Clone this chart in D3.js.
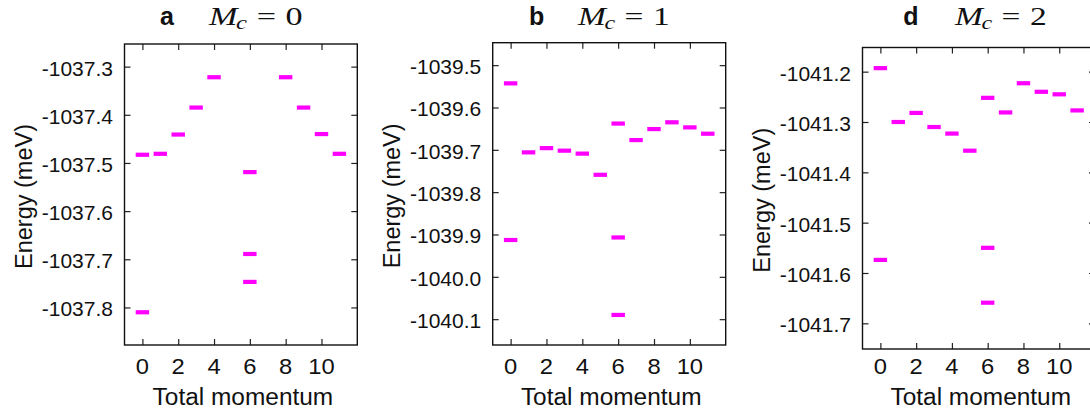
<!DOCTYPE html>
<html><head><meta charset="utf-8">
<script src="https://cdn.jsdelivr.net/npm/d3@7"></script>
<style>body{margin:0;background:#fff}svg{display:block}</style>
</head><body>
<svg id="chart" width="1090" height="413"></svg>
<script>
// ---- data ----
const panelLetters = ["a", "b", "d"];
const mcValues = ["0", "1", "2"];
const xTickValues = [0, 2, 4, 6, 8, 10];

const momentumA = [0, 0, 1, 2, 3, 4, 6, 6, 6, 8, 9, 10, 11];
const energyA = [-1037.483, -1037.810, -1037.481, -1037.441, -1037.385, -1037.322,
                 -1037.519, -1037.689, -1037.747, -1037.322, -1037.385, -1037.440, -1037.481];
const yTicksA = [-1037.3, -1037.4, -1037.5, -1037.6, -1037.7, -1037.8];

const momentumB = [0, 0, 1, 2, 3, 4, 5, 6, 6, 6, 7, 8, 9, 10, 11];
const energyB = [-1039.543, -1039.913, -1039.706, -1039.696, -1039.702, -1039.709, -1039.759,
                 -1039.638, -1039.907, -1040.090, -1039.677, -1039.651, -1039.635, -1039.647, -1039.662];
const yTicksB = [-1039.5, -1039.6, -1039.7, -1039.8, -1039.9, -1040.0, -1040.1];

const momentumD = [0, 0, 1, 2, 3, 4, 5, 6, 6, 6, 7, 8, 9, 10, 11];
const energyD = [-1041.193, -1041.574, -1041.300, -1041.282, -1041.310, -1041.323, -1041.357,
                 -1041.252, -1041.550, -1041.659, -1041.281, -1041.223, -1041.240, -1041.245, -1041.277];
const yTicksD = [-1041.2, -1041.3, -1041.4, -1041.5, -1041.6, -1041.7];

// ---- layout ----
const layout = [
  {left:124.5, right:357.3, top:44,   bottom:345, yDomain:[-1037.878, -1037.253], letterX:167,   mathX:209, mathW:95},
  {left:492.7, right:725.7, top:42.7, bottom:345, yDomain:[-1040.161, -1039.447], letterX:536.7, mathX:578, mathW:93},
  {left:862.5, right:1095,  top:47.5, bottom:349, yDomain:[-1041.751, -1041.152], letterX:911,   mathX:955, mathW:93}
];
const series = [
  {k: momentumA, e: energyA, ticks: yTicksA},
  {k: momentumB, e: energyB, ticks: yTicksB},
  {k: momentumD, e: energyD, ticks: yTicksD}
];

const svg = d3.select("#chart");
const SANS = "'Liberation Sans', Arial, sans-serif";
const SERIF = "'Liberation Serif', 'Times New Roman', serif";
const fmt = d => d.toFixed(1);

layout.forEach((L, i) => {
  const S = series[i];
  const x = d3.scaleLinear().domain([-1, 12]).range([L.left, L.right]);
  const y = d3.scaleLinear().domain(L.yDomain).range([L.bottom, L.top]);
  const g = svg.append("g");
  const tl = 6;

  // bars
  g.selectAll("rect.bar").data(S.k.map((k, j) => ({k, e: S.e[j]}))).enter()
    .append("rect").attr("class", "bar")
    .attr("x", d => x(d.k - 0.375)).attr("width", d => x(d.k + 0.375) - x(d.k - 0.375))
    .attr("y", d => y(d.e) - 2.1).attr("height", 4.2)
    .attr("fill", "#ff00ff");

  // axes (inward ticks, mirrored)
  const axL = d3.axisLeft(y).tickValues(S.ticks).tickSizeInner(-tl).tickSizeOuter(0).tickFormat(fmt).tickPadding(11.5);
  const axR = d3.axisRight(y).tickValues(S.ticks).tickSizeInner(-tl).tickSizeOuter(0).tickFormat("");
  const axB = d3.axisBottom(x).tickValues(xTickValues).tickSizeInner(-tl).tickSizeOuter(0).tickFormat(d3.format("d"));
  const axT = d3.axisTop(x).tickValues(xTickValues).tickSizeInner(-tl).tickSizeOuter(0).tickFormat("");

  const gl = g.append("g").attr("transform", `translate(${L.left},0)`).call(axL);
  gl.selectAll("text").attr("font-family", SANS).attr("font-size", 21).attr("fill", "#111").attr("dy", "0.40em");
  g.append("g").attr("transform", `translate(${L.right},0)`).call(axR);
  const gb = g.append("g").attr("transform", `translate(0,${L.bottom})`).call(axB);
  gb.selectAll("text").remove();
  g.append("g").attr("transform", `translate(0,${L.top})`).call(axT);

  g.selectAll(".domain").remove();
  g.selectAll(".tick line").attr("stroke", "#222").attr("stroke-width", 1.2);

  // x tick labels
  xTickValues.forEach(v => {
    g.append("text").attr("transform", `translate(${x(v)},373.5) scale(1.08,1)`)
      .attr("text-anchor", "middle").attr("font-family", SANS).attr("font-size", 22).attr("fill", "#111")
      .text(String(v));
  });

  // frame
  g.append("rect").attr("x", L.left).attr("y", L.top)
    .attr("width", L.right - L.left).attr("height", L.bottom - L.top)
    .attr("fill", "none").attr("stroke", "#111").attr("stroke-width", 1.4);

  // x label
  g.append("text").attr("transform", `translate(${(L.left + L.right) / 2 + 2},405) scale(1.04,1)`)
    .attr("text-anchor", "middle").attr("font-family", SANS).attr("font-size", 23.5).attr("fill", "#111")
    .text("Total momentum");

  // y label
  g.append("text").attr("transform", `translate(${L.left - 101},${(L.top + L.bottom) / 2 + 2}) rotate(-90)`)
    .attr("text-anchor", "middle").attr("dominant-baseline", "central")
    .attr("font-family", SANS).attr("font-size", 23.5).attr("fill", "#111")
    .text("Energy (meV)");

  // title: bold letter + math
  g.append("text").attr("x", L.letterX).attr("y", 25).attr("text-anchor", "middle")
    .attr("font-family", SANS).attr("font-weight", "bold").attr("font-size", 25).attr("fill", "#111")
    .text(panelLetters[i]);

  const mt = g.append("text").attr("font-family", SERIF).attr("font-size", 25).attr("fill", "#111");
  mt.append("tspan").attr("font-style", "italic").text("M");
  mt.append("tspan").attr("font-style", "italic").attr("font-size", 18).attr("dy", 4).attr("dx", -1).text("c");
  mt.append("tspan").attr("dy", -4).attr("dx", 7).text("=");
  mt.append("tspan").attr("dx", 7).text(mcValues[i]);
  const w = mt.node().getBBox().width;
  mt.attr("transform", `translate(${L.mathX},25) scale(${L.mathW / w},1)`);
});
</script>
</body></html>
